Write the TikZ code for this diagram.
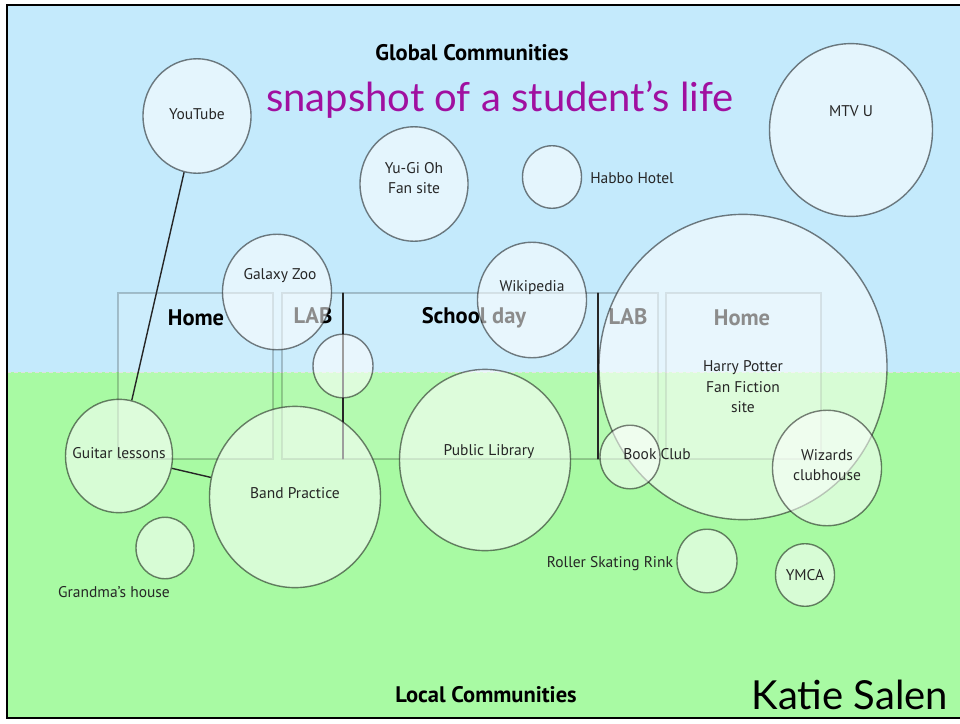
\documentclass[tikz,border=0pt]{standalone}
\usepackage{fontspec}
\setmainfont{PT Sans}
\newfontfamily\handfont{Lato}
\usepackage{tikz}
\usetikzlibrary{shapes.geometric}
\definecolor{skyblue}{RGB}{196,234,252}
\definecolor{grassgreen}{RGB}{168,250,163}
\definecolor{titlepurple}{RGB}{160,16,160}
\tikzset{
  bubble/.style={ellipse, draw=black, draw opacity=0.5, line width=1.4pt,
    fill=white, fill opacity=0.55, inner sep=0pt,
    minimum width=#1pt, minimum height={1.06*#1pt}},
  bubbletxt/.style={font=\fontsize{15.5}{20.5}\selectfont, text=black!85, align=center},
  zone/.style={draw=black, draw opacity=0.2, fill=white, fill opacity=0.15, line width=1.2pt},
  zonetxt/.style={font=\fontsize{22.5}{24}\selectfont\bfseries},
  headtxt/.style={font=\fontsize{22.5}{24}\selectfont\bfseries},
  handtxt/.style={font=\handfont\fontsize{40}{44}\selectfont},
  link/.style={line width=1.4pt, black!85}
}

\begin{document}
\begin{tikzpicture}[x=1pt,y=-1pt]
\useasboundingbox (0,0) rectangle (960,723);

% global / local halves
\fill[skyblue] (7,5) rectangle (965,372);
\fill[grassgreen] (7,372) rectangle (965,718);
\draw[white!75!gray, line width=1pt, dash pattern=on 4pt off 3pt] (7,372) -- (965,372);

% day rectangles
\draw[zone] (118,293) rectangle (273,459);
\draw[zone] (282,293) rectangle (343,459);
\draw[zone] (343,293) rectangle (598,459);
\draw[zone] (598,293) rectangle (658,459);
\draw[zone] (666,293) rectangle (821,459);
\draw[link] (343,293) -- (343,459);
\draw[link] (598,293) -- (598,459);

\node[zonetxt] (homeA) at (196,318) {Home};
\node[zonetxt] (labA) at (313,316) {LAB};
\node[zonetxt] (school) at (474,318) {School day};
\node[zonetxt] (labB) at (628,317) {LAB};
\node[zonetxt] (homeB) at (742,318) {Home};

% bubbles
\node[bubble=108] (youtube) at (197,116) {};
\node[bubble=108] (yugioh) at (414,184) {};
\node[bubble=59] (habbo) at (552,177) {};
\node[bubble=163] (mtvu) at (851,130) {};
\node[bubble=109] (galaxy) at (277,292) {};
\node[bubble=60] (labdot) at (343,366) {};
\node[bubble=109] (wiki) at (532,300) {};
\node[bubble=288] (potter) at (743,367) {};
\node[bubble=60] (bookclub) at (630,457) {};
\node[bubble=109] (wizards) at (827,468) {};
\node[bubble=171] (library) at (485,460) {};
\node[bubble=171] (band) at (295,497) {};
\node[bubble=107] (guitar) at (119,456) {};
\node[bubble=58] (grandma) at (165,548) {};
\node[bubble=60] (roller) at (707,561) {};
\node[bubble=59] (ymca) at (805,575) {};

\draw[link] (youtube) -- (guitar);
\draw[link] (guitar) -- (band);

% bubble labels
\node[bubbletxt] (youtubeT) at (197,114) {YouTube};
\node[bubbletxt] (yugiohT) at (414,178) {Yu-Gi Oh\\Fan site};
\node[bubbletxt] (habboT) at (632,178) {Habbo Hotel};
\node[bubbletxt] (mtvuT) at (851,111) {MTV U};
\node[bubbletxt] (galaxyT) at (280,276) {Galaxy Zoo};
\node[bubbletxt] (wikiT) at (532,288) {Wikipedia};
\node[bubbletxt] (potterT) at (743,387) {Harry Potter\\Fan Fiction\\site};
\node[bubbletxt] (bookclubT) at (657,454) {Book Club};
\node[bubbletxt] (wizardsT) at (827,465) {Wizards\\clubhouse};
\node[bubbletxt] (libraryT) at (489,452) {Public Library};
\node[bubbletxt] (bandT) at (295,493) {Band Practice};
\node[bubbletxt] (guitarT) at (119,453) {Guitar lessons};
\node[bubbletxt] (grandmaT) at (114,592) {Grandma’s house};
\node[bubbletxt] (rollerT) at (610,564) {Roller Skating Rink};
\node[bubbletxt] (ymcaT) at (805,575) {YMCA};

% headings
\node[headtxt] (global) at (472,53) {Global Communities};
\node[headtxt] (local) at (486,695) {Local Communities};
\node[handtxt, text=titlepurple] (title) at (500,100) {snapshot of a student’s life};
\node[handtxt] (author) at (850,695) {Katie Salen};

\draw[line width=2.5pt] (7,5) rectangle (965,718);
\end{tikzpicture}
\end{document}
